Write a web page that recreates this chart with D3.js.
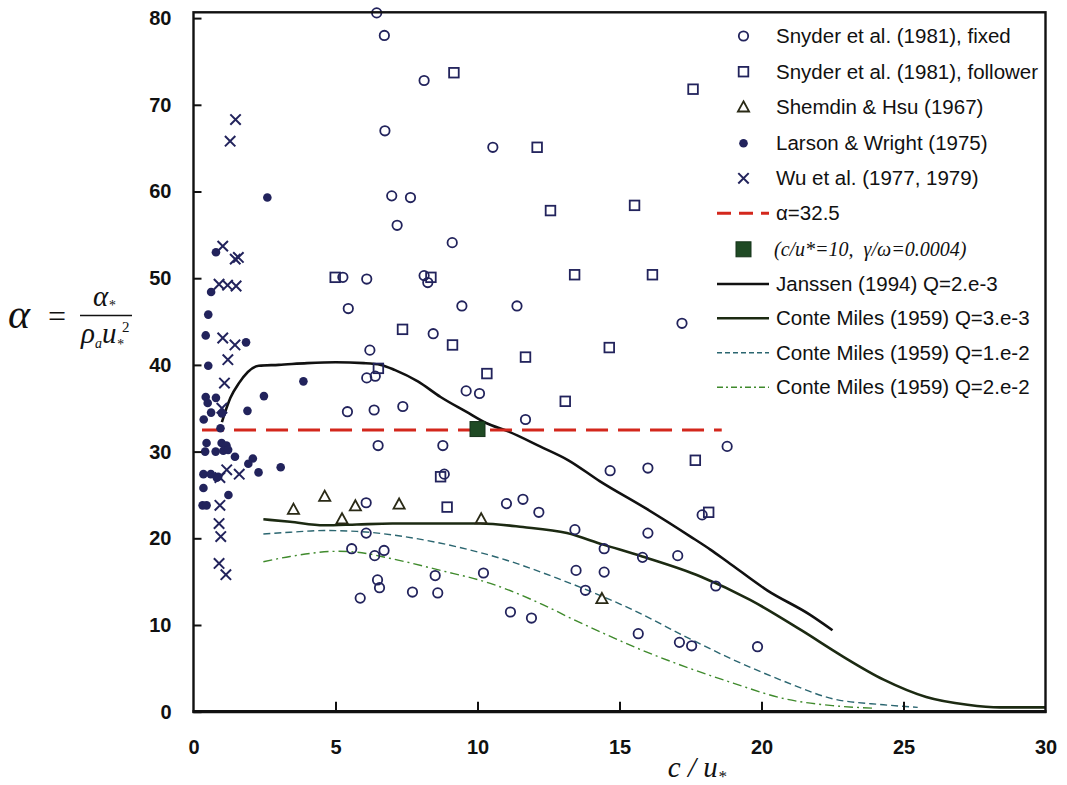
<!DOCTYPE html>
<html>
<head>
<meta charset="utf-8">
<script src="https://cdn.jsdelivr.net/npm/d3@7"></script>
<style>
  body { margin: 0; background: #fff; }
  svg { display: block; }
</style>
</head>
<body>
<svg id="chart" width="1067" height="785"></svg>
<script>
// ---- Data: growth-rate parameter alpha versus wave age c/u* ----

// Snyder et al. (1981), fixed sensors
const fixedX = [6.45, 6.72, 8.12, 6.74, 10.54, 6.98, 7.64, 7.17, 9.11, 5.26, 6.10, 8.12, 8.25,
  5.45, 9.45, 11.39, 8.44, 17.20, 6.21, 6.10, 6.40, 9.60, 10.07, 5.42, 6.36, 7.37, 11.69,
  6.50, 8.78, 8.83, 18.79, 14.67, 16.00, 6.08, 11.02, 11.60, 12.16, 17.91, 13.43, 16.00,
  6.08, 14.46, 15.81, 17.05, 5.57, 6.71, 6.38, 10.21, 8.51, 13.47, 14.46, 6.48, 6.55, 5.87,
  7.71, 8.60, 13.80, 18.39, 11.16, 11.90, 15.66, 17.11, 17.54, 19.86];
const fixedY = [80.6, 78.0, 72.8, 67.0, 65.1, 59.5, 59.3, 56.1, 54.1, 50.1, 49.9, 50.3, 49.5,
  46.5, 46.8, 46.8, 43.6, 44.8, 41.7, 38.5, 38.7, 37.0, 36.7, 34.6, 34.8, 35.2, 33.7,
  30.7, 30.7, 27.4, 30.6, 27.8, 28.1, 24.1, 24.0, 24.5, 23.0, 22.7, 21.0, 20.6,
  20.6, 18.8, 17.8, 18.0, 18.8, 18.6, 18.0, 16.0, 15.7, 16.3, 16.1, 15.2, 14.3, 13.1,
  13.8, 13.7, 14.0, 14.5, 11.5, 10.8, 9.0, 8.0, 7.6, 7.5];

// Snyder et al. (1981), follower sensors
const followerX = [9.17, 12.10, 12.57, 17.59, 15.53, 13.42, 16.16, 4.99, 8.36, 7.36, 9.12,
  14.64, 11.69, 6.51, 10.33, 13.09, 8.70, 8.93, 17.67, 18.14];
const followerY = [73.7, 65.1, 57.8, 71.8, 58.4, 50.4, 50.4, 50.1, 50.1, 44.1, 42.3,
  42.0, 40.9, 39.6, 39.0, 35.8, 27.1, 23.6, 29.0, 23.0];

// Shemdin & Hsu (1967)
const shemdinX = [3.52, 4.62, 5.23, 5.70, 7.24, 10.13, 14.38];
const shemdinY = [23.3, 24.8, 22.2, 23.7, 23.9, 22.2, 13.0];

// Larson & Wright (1975)
const larsonX = [2.60, 0.79, 0.62, 0.52, 0.43, 1.85, 0.52, 3.87, 2.48, 0.43, 0.79, 0.50,
  1.90, 0.62, 1.00, 0.36, 0.95, 0.46, 0.99, 1.16, 0.41, 0.78, 1.05, 1.22, 1.46, 2.09,
  1.93, 3.07, 2.29, 0.35, 0.61, 0.82, 0.87, 0.35, 1.23, 0.32, 0.46];
const larsonY = [59.3, 53.0, 48.4, 45.8, 43.4, 42.6, 39.9, 38.1, 36.4, 36.3, 36.2, 35.6,
  34.7, 34.5, 34.4, 33.7, 32.7, 31.0, 31.0, 30.7, 30.0, 30.0, 30.1, 30.2, 29.4, 29.2,
  28.6, 28.2, 27.6, 27.4, 27.4, 27.0, 27.1, 25.8, 25.0, 23.8, 23.8];

// Wu et al. (1977, 1979)
const wuX = [1.48, 1.29, 1.03, 1.47, 1.58, 0.90, 1.20, 1.50, 1.03, 1.46, 1.21, 1.09, 1.00,
  1.17, 1.61, 0.93, 0.93, 0.90, 0.96, 0.90, 1.14];
const wuY = [68.3, 65.8, 53.7, 52.2, 52.4, 49.3, 49.2, 49.1, 43.1, 42.3, 40.6, 37.9, 35.0,
  27.9, 27.4, 27.0, 23.8, 21.7, 20.2, 17.1, 15.8];

// Constant growth rate alpha = 32.5
const alphaConst = 32.5;
const alphaRange = [0.3, 18.6];

// Reference point (c/u* = 10, gamma/omega = 0.0004)
const refX = [10];
const refY = [32.6];

// Janssen (1994) Q=2.e-3
const janssenX = [1.0, 1.3, 1.6, 2.3, 3.0, 4.0, 5.0, 6.0, 6.6, 7.1, 7.9, 8.7, 9.6, 10.3,
  11.1, 12.2, 13.2, 14.3, 15.9, 17.5, 18.2, 18.8, 20.2, 21.7, 22.5];
const janssenY = [33.4, 36.2, 37.9, 39.9, 40.0, 40.2, 40.3, 40.2, 40.0, 39.4, 38.1, 36.3,
  34.6, 33.3, 32.3, 30.6, 29.0, 26.6, 23.5, 20.2, 18.7, 17.3, 14.0, 11.2, 9.4];

// Conte & Miles (1959) Q=3.e-3
const cm3X = [2.46, 3.4, 4.6, 5.75, 7.0, 8.1, 10.1, 11.6, 13.15, 14.4, 15.8, 17.85, 19.6,
  21.4, 22.8, 24.3, 25.8, 27.25, 28.4, 30.0];
const cm3Y = [22.2, 21.9, 21.5, 21.6, 21.7, 21.7, 21.7, 21.3, 20.6, 19.3, 17.9, 15.6, 12.9,
  9.4, 6.5, 3.7, 1.7, 0.8, 0.5, 0.5];

// Conte & Miles (1959) Q=1.e-2
const cm10X = [2.46, 3.4, 4.6, 5.75, 7.4, 9.3, 11.0, 12.8, 14.4, 15.5, 17.3, 19.0, 20.8,
  22.5, 24.3, 25.5];
const cm10Y = [20.5, 20.7, 20.9, 20.8, 20.2, 19.0, 17.5, 15.4, 13.3, 11.7, 8.7, 6.0, 3.5,
  1.5, 0.8, 0.5];

// Conte & Miles (1959) Q=2.e-2
const cm20X = [2.46, 3.4, 5.05, 5.75, 6.9, 8.7, 10.45, 12.2, 13.4, 14.6, 15.5, 17.3, 19.0,
  20.8, 22.5, 24.0];
const cm20Y = [17.3, 17.9, 18.5, 18.4, 17.7, 16.3, 14.8, 12.5, 10.6, 8.8, 7.5, 5.2, 3.3,
  1.5, 0.7, 0.4];

const xTicks = [0, 5, 10, 15, 20, 25, 30];
const yTicks = [0, 10, 20, 30, 40, 50, 60, 70, 80];

const legendLabels = [
  "Snyder et al. (1981), fixed",
  "Snyder et al. (1981), follower",
  "Shemdin & Hsu (1967)",
  "Larson & Wright (1975)",
  "Wu et al. (1977, 1979)",
  "\u03b1=32.5",
  "(c/u*=10,  \u03b3/\u03c9=0.0004)",
  "Janssen (1994) Q=2.e-3",
  "Conte Miles (1959) Q=3.e-3",
  "Conte Miles (1959) Q=1.e-2",
  "Conte Miles (1959) Q=2.e-2"
];

(function draw() {
  const svg = d3.select("#chart");
  const pL = 193.5, pR = 1045.5, pB = 711.7, pT = 12.3;
  const x = d3.scaleLinear().domain([0, 30]).range([pL, pR]);
  const y = d3.scaleLinear().domain([0, 80]).range([pB, pB - 80 * 8.67]);

  const NAVY = "#22235c";
  const TRI = "#2a2a16";
  const SANS = "'Liberation Sans', Arial, Helvetica, sans-serif";
  const SERIF = "'Liberation Serif', 'Times New Roman', serif";

  const zip = (xs, ys) => xs.map((v, i) => [v, ys[i]]);

  svg.append("defs").append("clipPath").attr("id", "plotClip")
    .append("rect").attr("x", pL).attr("y", pT - 6)
    .attr("width", pR - pL).attr("height", pB - pT + 6);

  const plot = svg.append("g").attr("clip-path", "url(#plotClip)");

  // curves
  const line = d3.line().x(d => x(d[0])).y(d => y(d[1])).curve(d3.curveMonotoneX);

  plot.append("path").datum(zip(cm20X, cm20Y)).attr("d", line)
    .attr("fill", "none").attr("stroke", "#3f8a2c").attr("stroke-width", 1.4)
    .attr("stroke-dasharray", "9,4,2,4");
  plot.append("path").datum(zip(cm10X, cm10Y)).attr("d", line)
    .attr("fill", "none").attr("stroke", "#2b6670").attr("stroke-width", 1.4)
    .attr("stroke-dasharray", "7,4");
  plot.append("path").datum(zip(cm3X, cm3Y)).attr("d", line)
    .attr("fill", "none").attr("stroke", "#1c2a12").attr("stroke-width", 2.6);
  plot.append("path").datum(zip(janssenX, janssenY)).attr("d", line)
    .attr("fill", "none").attr("stroke", "#111").attr("stroke-width", 2.6);

  // constant alpha line
  plot.append("line")
    .attr("x1", x(alphaRange[0])).attr("x2", x(alphaRange[1]))
    .attr("y1", y(alphaConst)).attr("y2", y(alphaConst))
    .attr("stroke", "#d3271c").attr("stroke-width", 3)
    .attr("stroke-dasharray", "22,10");

  // marker shapes
  function circleAt(g, cx, cy) {
    g.append("circle").attr("cx", cx).attr("cy", cy).attr("r", 4.7)
      .attr("fill", "none").attr("stroke", NAVY).attr("stroke-width", 1.8);
  }
  function squareAt(g, cx, cy) {
    g.append("rect").attr("x", cx - 4.8).attr("y", cy - 4.8).attr("width", 9.6).attr("height", 9.6)
      .attr("fill", "none").attr("stroke", NAVY).attr("stroke-width", 1.8);
  }
  function triangleAt(g, cx, cy) {
    g.append("path").attr("d", `M${cx},${cy - 6}L${cx + 5.6},${cy + 4.2}L${cx - 5.6},${cy + 4.2}Z`)
      .attr("fill", "none").attr("stroke", TRI).attr("stroke-width", 1.8);
  }
  function dotAt(g, cx, cy) {
    g.append("circle").attr("cx", cx).attr("cy", cy).attr("r", 4.3).attr("fill", NAVY);
  }
  function crossAt(g, cx, cy) {
    const s = 5.2;
    g.append("path").attr("d", `M${cx - s},${cy - s}L${cx + s},${cy + s}M${cx - s},${cy + s}L${cx + s},${cy - s}`)
      .attr("stroke", NAVY).attr("stroke-width", 2).attr("fill", "none");
  }
  function bigSquareAt(g, cx, cy) {
    g.append("rect").attr("x", cx - 7.5).attr("y", cy - 7.5).attr("width", 15).attr("height", 15)
      .attr("fill", "#1f4a24").attr("stroke", "#16331a").attr("stroke-width", 1);
  }

  const marks = svg.append("g");
  zip(larsonX, larsonY).forEach(d => dotAt(marks, x(d[0]), y(d[1])));
  zip(wuX, wuY).forEach(d => crossAt(marks, x(d[0]), y(d[1])));
  zip(fixedX, fixedY).forEach(d => circleAt(marks, x(d[0]), y(d[1])));
  zip(followerX, followerY).forEach(d => squareAt(marks, x(d[0]), y(d[1])));
  zip(shemdinX, shemdinY).forEach(d => triangleAt(marks, x(d[0]), y(d[1])));
  zip(refX, refY).forEach(d => bigSquareAt(marks, x(d[0]), y(d[1])));

  // frame and axes
  const frame = svg.append("g").attr("stroke", "#111").attr("fill", "none");
  frame.append("rect").attr("x", pL).attr("y", pT).attr("width", pR - pL)
    .attr("height", pB - pT).attr("stroke-width", 2.4);
  frame.append("line").attr("x1", pL - 1).attr("x2", pR + 1).attr("y1", pB).attr("y2", pB)
    .attr("stroke-width", 3.2);

  const yAxis = d3.axisLeft(y).tickValues(yTicks).tickSizeInner(-8).tickSizeOuter(0).tickPadding(22);
  const gy = svg.append("g").attr("transform", `translate(${pL},0)`).call(yAxis);
  gy.select(".domain").remove();
  gy.selectAll(".tick line").attr("stroke", "#111").attr("stroke-width", 2);
  gy.selectAll(".tick text").attr("font-family", SANS).attr("font-weight", "bold")
    .attr("font-size", 20).attr("fill", "#111");

  const xAxis = d3.axisBottom(x).tickValues(xTicks).tickSizeInner(-10).tickSizeOuter(0).tickPadding(28);
  const gx = svg.append("g").attr("transform", `translate(0,${pB})`).call(xAxis);
  gx.select(".domain").remove();
  gx.selectAll(".tick line").attr("stroke", "#111").attr("stroke-width", 2)
    .filter(d => d === 0 || d === 30).remove();
  gx.selectAll(".tick text").attr("font-family", SANS).attr("font-weight", "bold")
    .attr("font-size", 20).attr("fill", "#111");

  // x-axis title: c / u*
  const xt = svg.append("text").attr("x", 697).attr("y", 777).attr("text-anchor", "middle")
    .attr("font-family", SERIF).attr("font-style", "italic").attr("font-size", 29).attr("fill", "#111");
  xt.append("tspan").text("c / u");
  xt.append("tspan").attr("font-size", 17).attr("dy", 5).text("*");

  // y-axis title: alpha = alpha* / (rho_a u*^2)
  const yt = svg.append("g").attr("font-family", SERIF).attr("font-style", "italic").attr("fill", "#111");
  yt.append("text").attr("x", 8).attr("y", 328).attr("font-size", 42).text("\u03b1");
  yt.append("text").attr("x", 48).attr("y", 327).attr("font-size", 32).attr("font-style", "normal").text("=");
  const num = yt.append("text").attr("x", 93).attr("y", 306).attr("font-size", 29);
  num.append("tspan").text("\u03b1");
  num.append("tspan").attr("font-size", 14).attr("dy", 4).text("*");
  svg.append("line").attr("x1", 80).attr("x2", 132).attr("y1", 315.5).attr("y2", 315.5)
    .attr("stroke", "#111").attr("stroke-width", 1.3);
  const den = yt.append("text").attr("x", 81).attr("y", 343).attr("font-size", 29);
  den.append("tspan").text("\u03c1");
  den.append("tspan").attr("font-size", 14).attr("dy", 5).text("a");
  den.append("tspan").attr("dy", -5).text("u");
  den.append("tspan").attr("font-size", 14).attr("dy", 6).text("*");
  yt.append("text").attr("x", 122).attr("y", 332).attr("font-size", 15).attr("font-style", "normal").text("2");

  // legend
  const rowY = [36, 71.7, 107.3, 143.3, 178.3, 213.3, 249.3, 284, 318.3, 352.7, 387.3];
  const symX = 743.5, textX = 776, lineX1 = 717, lineX2 = 769;
  const leg = svg.append("g");
  circleAt(leg, symX, rowY[0]);
  squareAt(leg, symX, rowY[1]);
  triangleAt(leg, symX, rowY[2]);
  dotAt(leg, symX, rowY[3]);
  crossAt(leg, symX, rowY[4]);
  leg.append("line").attr("x1", lineX1).attr("x2", lineX2).attr("y1", rowY[5]).attr("y2", rowY[5])
    .attr("stroke", "#d3271c").attr("stroke-width", 3).attr("stroke-dasharray", "14,8");
  bigSquareAt(leg, symX, rowY[6]);
  leg.append("line").attr("x1", lineX1).attr("x2", lineX2).attr("y1", rowY[7]).attr("y2", rowY[7])
    .attr("stroke", "#111").attr("stroke-width", 2.6);
  leg.append("line").attr("x1", lineX1).attr("x2", lineX2).attr("y1", rowY[8]).attr("y2", rowY[8])
    .attr("stroke", "#1c2a12").attr("stroke-width", 2.6);
  leg.append("line").attr("x1", lineX1).attr("x2", lineX2).attr("y1", rowY[9]).attr("y2", rowY[9])
    .attr("stroke", "#2b6670").attr("stroke-width", 1.4).attr("stroke-dasharray", "5,3");
  leg.append("line").attr("x1", lineX1).attr("x2", lineX2).attr("y1", rowY[10]).attr("y2", rowY[10])
    .attr("stroke", "#3f8a2c").attr("stroke-width", 1.4).attr("stroke-dasharray", "6,3,2,3");

  legendLabels.forEach((t, i) => {
    const isRef = i === 6;
    leg.append("text").attr("x", isRef ? textX - 2 : textX).attr("y", rowY[i] + 7)
      .attr("font-family", isRef ? SERIF : SANS)
      .attr("font-style", isRef ? "italic" : "normal")
      .attr("font-size", isRef ? 20 : 20.5)
      .style("white-space", "pre")
      .attr("fill", "#111").text(t);
  });
})();
</script>
</body>
</html>
